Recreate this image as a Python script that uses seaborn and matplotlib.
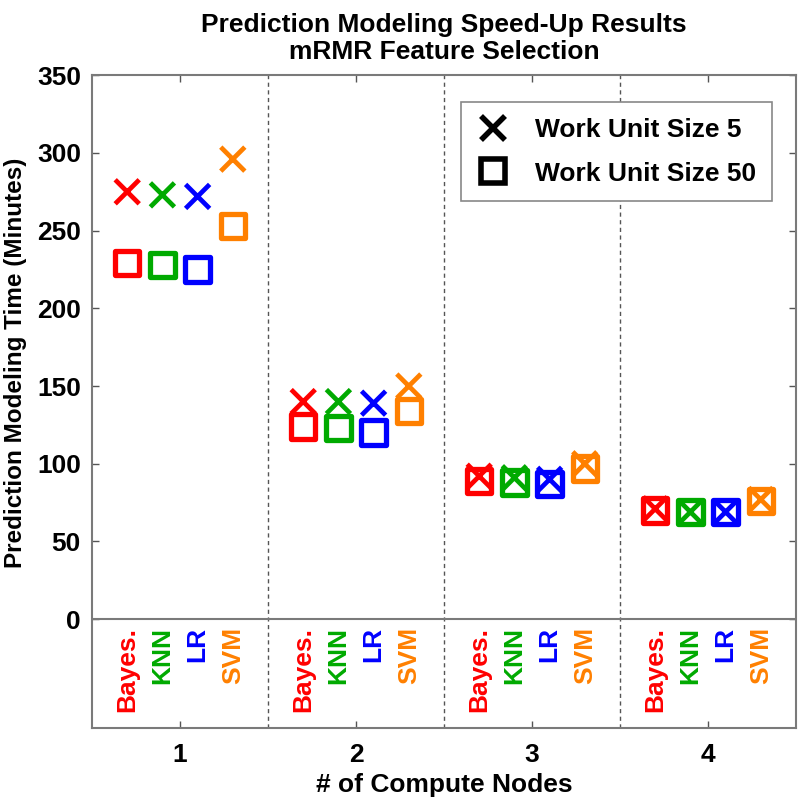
import matplotlib
matplotlib.use("Agg")
import matplotlib.pyplot as plt
import seaborn as sns
import pandas as pd
from matplotlib.lines import Line2D

nodes = [1, 2, 3, 4]
methods = ["Bayes.", "KNN", "LR", "SVM"]
method_offsets = [-0.3, -0.1, 0.1, 0.3]
method_colors = ["#ff0000", "#00aa00", "#0000ff", "#ff8000"]

# Prediction modeling time (minutes), per node count, per method
size5 = {
    "Bayes.": [275, 140, 92, 71],
    "KNN":    [273, 140, 91, 69],
    "LR":     [272, 139, 90, 69],
    "SVM":    [296, 150, 100, 77],
}
size50 = {
    "Bayes.": [229, 124, 89, 70],
    "KNN":    [228, 123, 88, 69],
    "LR":     [225, 120, 87, 69],
    "SVM":    [253, 134, 97, 76],
}
legend_labels = ["Work Unit Size 5", "Work Unit Size 50"]
yticks = [0, 50, 100, 150, 200, 250, 300, 350]

rows = []
for lab, d in zip(["5", "50"], [size5, size50]):
    for m, off in zip(methods, method_offsets):
        for n, v in zip(nodes, d[m]):
            rows.append({"x": n + off, "time": v, "method": m, "size": lab})
df = pd.DataFrame(rows)

sns.set_theme(style="white")
plt.rcParams["font.family"] = ["Liberation Sans", "DejaVu Sans"]
plt.rcParams["font.weight"] = "bold"
plt.rcParams["text.color"] = "black"
plt.rcParams["axes.labelcolor"] = "black"
plt.rcParams["xtick.color"] = "black"
plt.rcParams["ytick.color"] = "black"

FS = 19

fig = plt.figure(figsize=(8, 8), dpi=100)
ax = fig.add_axes([0.115, 0.09, 0.88, 0.816])

palette = dict(zip(methods, method_colors))
sns.scatterplot(data=df[df["size"] == "5"], x="x", y="time", hue="method",
                palette=palette, marker="x", s=300, linewidth=3.2, ax=ax,
                legend=False, zorder=4)
sns.scatterplot(data=df[df["size"] == "50"], x="x", y="time", hue="method",
                palette=palette, marker="s", s=310, linewidth=3.4, ax=ax,
                legend=False, zorder=3)
cols = ax.collections
for i, c in enumerate(cols):
    fc = c.get_facecolors()
    if len(fc):
        c.set_edgecolors(fc)
    if i == 1:
        c.set_facecolors("none")
    c.set_linewidths(3.4 if i == 0 else 3.8)

ax.set_xlim(0.5, 4.5)
ax.set_ylim(-70, 350)
ax.set_yticks(yticks)
ax.set_yticklabels([str(t) for t in yticks])
ax.set_xticks(nodes)
ax.set_xticklabels([str(n) for n in nodes])
ax.tick_params(axis="both", direction="in", length=5, width=1, color="#555555",
               labelsize=FS, labelcolor="black", top=True, right=True,
               bottom=True, left=True, pad=8)
ax.tick_params(axis="x", pad=11)
for lab in ax.get_xticklabels() + ax.get_yticklabels():
    lab.set_fontweight("bold")

for s in ax.spines.values():
    s.set_color("#7a7a7a")
    s.set_linewidth(1.5)

ax.axhline(0, color="#7a7a7a", lw=1.5, zorder=2)
for xv in [1.5, 2.5, 3.5]:
    ax.axvline(xv, color="#555555", lw=1.0, ls=(0, (3, 2.5)), zorder=1)

for n in nodes:
    for m, off, col in zip(methods, method_offsets, method_colors):
        ax.text(n + off, -5, m, rotation=90, ha="center", va="top",
                color=col, fontsize=FS, fontweight="bold")

ax.set_xlabel("# of Compute Nodes", fontsize=FS, fontweight="bold",
              labelpad=4, color="black")
ax.set_ylabel("Prediction Modeling Time (Minutes)", fontsize=17.5,
              fontweight="bold", color="black")
ax.yaxis.set_label_coords(-0.092, 0.56)
ax.set_title("Prediction Modeling Speed-Up Results\nmRMR Feature Selection",
             fontsize=FS, fontweight="bold", pad=12, linespacing=1.15,
             color="black")

handles = [
    Line2D([], [], marker="x", color="black", ls="", ms=17, mew=4),
    Line2D([], [], marker="s", color="black", ls="", ms=17, mew=4,
           mfc="none"),
]
leg = ax.legend(handles, legend_labels, loc="upper right",
                bbox_to_anchor=(0.966, 0.959), borderaxespad=0,
                fancybox=False, framealpha=1, edgecolor="#888888",
                handletextpad=1.0, borderpad=0.6, labelspacing=0.75,
                handlelength=1.2, prop={"size": FS, "weight": "bold"})
leg.get_frame().set_linewidth(1.2)
for t in leg.get_texts():
    t.set_color("black")

fig.savefig("out.png", dpi=100)
